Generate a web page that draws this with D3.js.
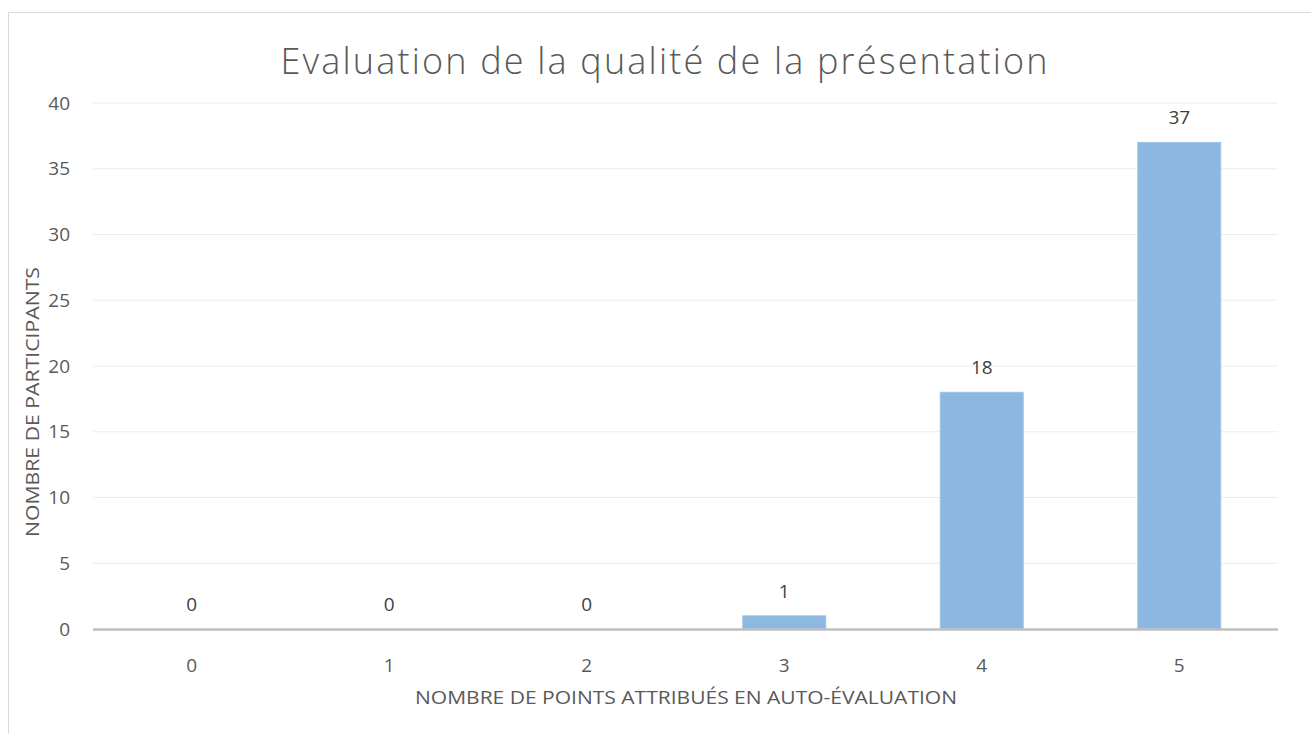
<!DOCTYPE html>
<html>
<head>
	<script src="https://cdn.jsdelivr.net/npm/d3@7"></script>
	<style>
		html, body {
			padding: 0;
			margin: 0;
			background: white;
		}
		text {
			font-family: "Open Sans", sans-serif;
			fill: #595959;
		}
	</style>
</head>
<body>
	<script>
		var width = 1311;
		var height = 734;

		// data
		var categories = ["0", "1", "2", "3", "4", "5"];
		var values = [0, 0, 0, 1, 18, 37];
		var yTicks = [0, 5, 10, 15, 20, 25, 30, 35, 40];

		var title = "Evaluation de la qualité de la présentation";
		var xTitle = "NOMBRE DE POINTS ATTRIBUÉS EN AUTO-ÉVALUATION";
		var yTitle = "NOMBRE DE PARTICIPANTS";

		var svg = d3.select("body").append("svg")
			.attr("width", width)
			.attr("height", height);

		// chart frame
		svg.append("rect")
			.attr("x", 8.5)
			.attr("y", 12.5)
			.attr("width", width + 10)
			.attr("height", height + 10)
			.attr("fill", "white")
			.attr("stroke", "#d9d9d9");

		var plot = { left: 93, right: 1278, top: 103, bottom: 629 };

		var x = d3.scaleBand()
			.domain(categories)
			.range([plot.left, plot.right])
			.paddingInner(0.58)
			.paddingOuter(0.29);

		var y = d3.scaleLinear()
			.domain([0, 40])
			.range([plot.bottom, plot.top]);

		/* gridlines */
		svg.append("g")
			.selectAll("line")
			.data(yTicks.slice(1))
			.enter().append("line")
			.attr("x1", plot.left)
			.attr("x2", plot.right)
			.attr("y1", function(d) { return y(d); })
			.attr("y2", function(d) { return y(d); })
			.attr("stroke", "#ececec")
			.attr("stroke-width", 1.2);

		/* y tick labels */
		svg.append("g")
			.selectAll("text")
			.data(yTicks)
			.enter().append("text")
			.attr("x", 70)
			.attr("y", function(d) { return y(d); })
			.attr("dy", "0.35em")
			.attr("text-anchor", "end")
			.style("font-size", "19px")
			.text(function(d) { return d; });

		/* bars */
		svg.append("g")
			.selectAll("rect")
			.data(values)
			.enter().append("rect")
			.attr("x", function(d, i) { return x(categories[i]); })
			.attr("y", function(d) { return y(d); })
			.attr("width", x.bandwidth())
			.attr("height", function(d) { return y(0) - y(d); })
			.attr("fill", "#8cb8e1")
			.attr("stroke", "#9cc3e6")
			.attr("stroke-width", 1);

		/* category axis line */
		svg.append("line")
			.attr("x1", plot.left)
			.attr("x2", plot.right)
			.attr("y1", y(0) + 0.5)
			.attr("y2", y(0) + 0.5)
			.attr("stroke", "#bfbfbf")
			.attr("stroke-width", 2.5);

		/* data labels */
		svg.append("g")
			.selectAll("text")
			.data(values)
			.enter().append("text")
			.attr("x", function(d, i) { return x(categories[i]) + x.bandwidth() / 2; })
			.attr("y", function(d) { return y(d) - 18; })
			.attr("text-anchor", "middle")
			.style("font-size", "19px")
			.style("fill", "#404040")
			.text(function(d) { return d; });

		/* x tick labels */
		svg.append("g")
			.selectAll("text")
			.data(categories)
			.enter().append("text")
			.attr("x", function(d) { return x(d) + x.bandwidth() / 2; })
			.attr("y", 672)
			.attr("text-anchor", "middle")
			.style("font-size", "19px")
			.text(function(d) { return d; });

		/* titles */
		svg.append("text")
			.attr("x", 664)
			.attr("y", 74)
			.attr("text-anchor", "middle")
			.style("font-size", "36px")
			.style("font-weight", 300)
			.attr("textLength", 767)
			.text(title);

		svg.append("text")
			.attr("x", 686)
			.attr("y", 704)
			.attr("text-anchor", "middle")
			.style("font-size", "19px")
			.attr("textLength", 542)
			.attr("lengthAdjust", "spacingAndGlyphs")
			.text(xTitle);

		svg.append("text")
			.attr("transform", "translate(39,402) rotate(-90)")
			.attr("text-anchor", "middle")
			.style("font-size", "19px")
			.attr("textLength", 270)
			.attr("lengthAdjust", "spacingAndGlyphs")
			.text(yTitle);
	</script>
</body>
</html>
